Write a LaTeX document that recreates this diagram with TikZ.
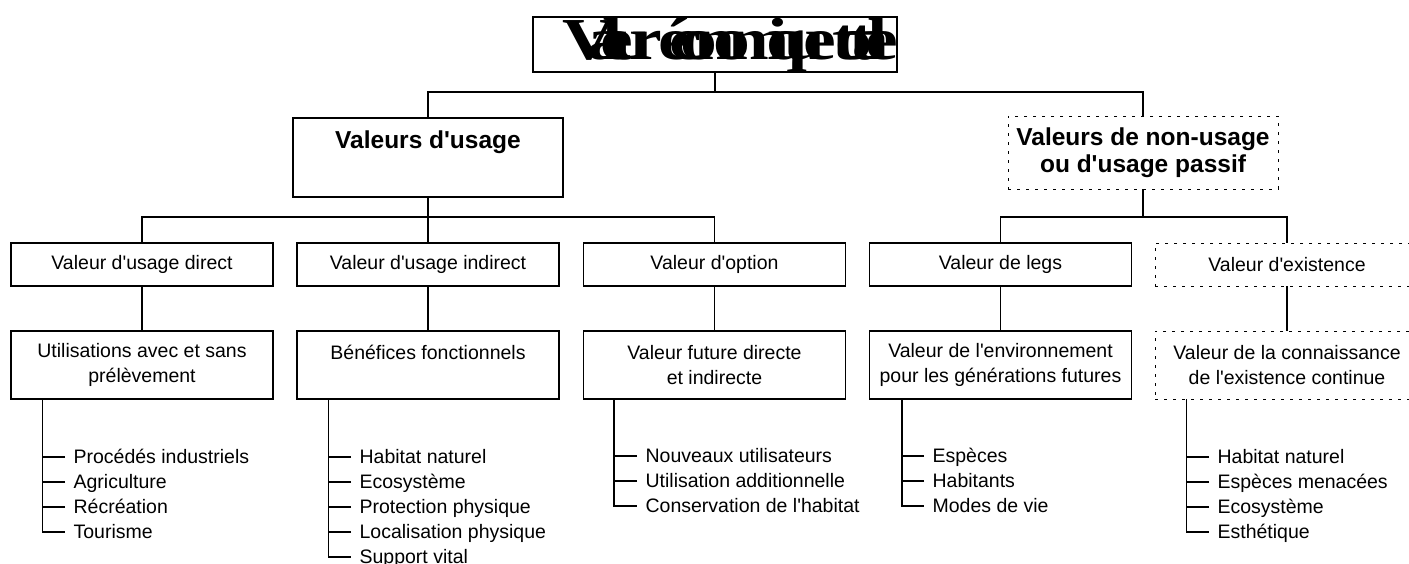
\documentclass[tikz,border=0pt]{standalone}
\usepackage{fontspec}
\usepackage{graphicx}
\setmainfont{Liberation Sans}[Ligatures=TeXOff]
\newfontfamily\titlefont[LetterSpace=-30]{Liberation Serif}
\begin{document}
\begin{tikzpicture}[x=1pt,y=-1pt,line width=1.2pt,
  box/.style={draw,line width=1.2pt,minimum width=262pt,inner sep=0pt,align=center,font=\fontsize{19.5}{25}\selectfont},
  dbox/.style={box,dash pattern=on 3pt off 6pt,line width=0.9pt},
  bigtxt/.style={font=\bfseries\fontsize{24.5}{27}\selectfont},
  item/.style={anchor=west,inner xsep=8pt,inner ysep=0pt,text height=12pt,text depth=0pt,font=\fontsize{19.5}{25}\selectfont}]
\useasboundingbox (0,0) rectangle (1409,563);

% top
\node[draw,minimum width=364pt,minimum height=55pt,inner sep=0pt] (top) at (715,44.5) {};
\node[inner sep=0pt] (title) at (730.5,45) {\resizebox*{335pt}{54pt}{\titlefont\bfseries Valeur économique totale}};

% level 1
\node[box,minimum width=270pt,minimum height=79pt] (usage) at (428,157.5) {};
\node[bigtxt,inner sep=0pt] (usageT) at (428,142) {Valeurs d'usage};
\node[dbox,bigtxt,minimum width=270pt,minimum height=73pt] (nonusage) at (1143,152.5) {Valeurs de non-usage\\ou d'usage passif};

\coordinate (bus1) at (715,92);
\draw (top.south) -- (top.south |- bus1);
\draw (usage.north) |- (nonusage.north |- bus1) -- (nonusage.north);

% level 2
\node[box,minimum height=43pt] (l2a) at (142,264.5) {Valeur d'usage direct};
\node[box,minimum height=43pt] (l2b) at (428,264.5) {Valeur d'usage indirect};
\node[box,minimum height=43pt] (l2c) at (714.5,264.5) {Valeur d'option};
\node[box,minimum height=43pt] (l2d) at (1000.5,264.5) {Valeur de legs};
\node[dbox,minimum width=264pt,minimum height=43pt] (l2e) at (1287,264.5) {Valeur d'existence};

\coordinate (bus2) at (715,217);
\draw (usage.south) -- (usage.south |- bus2);
\draw (l2a.north) |- (l2c.north |- bus2) -- (l2c.north);
\draw (l2b.north) -- (l2b.north |- bus2);
\draw (nonusage.south) -- (nonusage.south |- bus2);
\draw (l2d.north) |- (l2e.north |- bus2) -- (l2e.north);

% level 3
\node[box,minimum height=68pt] (l3a) at (142,365) {Utilisations avec et sans\\prélèvement};
\node[box,minimum height=68pt] (l3b) at (428,365) {Bénéfices fonctionnels\\\mbox{}};
\node[box,minimum height=68pt] (l3c) at (714.5,365) {Valeur future directe\\et indirecte};
\node[box,minimum height=68pt] (l3d) at (1000.5,365) {Valeur de l'environnement\\pour les générations futures};
\node[dbox,minimum width=264pt,minimum height=68pt] (l3e) at (1287,365) {Valeur de la connaissance\\de l'existence continue};

\foreach \s in {a,b,c,d,e} \draw (l2\s.south) -- (l3\s.north);

% lists
\foreach \t [count=\i] in {Procédés industriels,Agriculture,Récréation,Tourisme}
  \node[item] (a\i) at (65,432+25*\i) {\t};
\foreach \t [count=\i] in {Habitat naturel,Ecosystème,Protection physique,Localisation physique,Support vital}
  \node[item] (b\i) at (351,432+25*\i) {\t};
\foreach \t [count=\i] in {Nouveaux utilisateurs,Utilisation additionnelle,Conservation de l'habitat}
  \node[item] (c\i) at (637,431+25*\i) {\t};
\foreach \t [count=\i] in {Espèces,Habitants,Modes de vie}
  \node[item] (d\i) at (924,431+25*\i) {\t};
\foreach \t [count=\i] in {Habitat naturel,Espèces menacées,Ecosystème,Esthétique}
  \node[item] (e\i) at (1209,432+25*\i) {\t};

\coordinate (va) at ([xshift=32pt]l3a.south west);
\coordinate (vb) at ([xshift=32pt]l3b.south west);
\coordinate (vc) at ([xshift=31pt]l3c.south west);
\coordinate (vd) at ([xshift=33pt]l3d.south west);
\coordinate (ve) at ([xshift=32pt]l3e.south west);

\draw (va) |- (a4.west);
\foreach \i in {1,2,3} \draw (a\i.west) -- (a\i.west -| va);
\draw (vb) |- (b5.west);
\foreach \i in {1,2,3,4} \draw (b\i.west) -- (b\i.west -| vb);
\draw (vc) |- (c3.west);
\foreach \i in {1,2} \draw (c\i.west) -- (c\i.west -| vc);
\draw (vd) |- (d3.west);
\foreach \i in {1,2} \draw (d\i.west) -- (d\i.west -| vd);
\draw (ve) |- (e4.west);
\foreach \i in {1,2,3} \draw (e\i.west) -- (e\i.west -| ve);
\end{tikzpicture}
\end{document}
